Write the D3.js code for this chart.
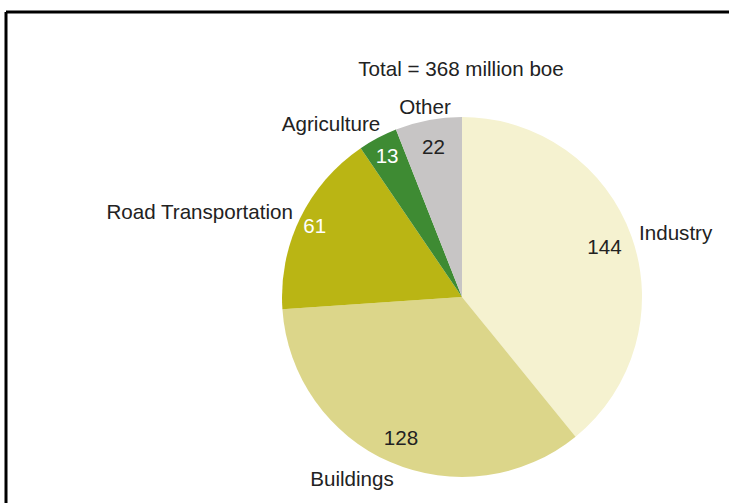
<!DOCTYPE html>
<html>
<head>
<meta charset="utf-8">
<script src="https://cdn.jsdelivr.net/npm/d3@7"></script>
<style>
  html, body { margin: 0; padding: 0; background: #fff; }
  svg { display: block; font-family: "Liberation Sans", Arial, sans-serif; }
</style>
</head>
<body>
<svg id="chart" width="729" height="503"></svg>
<script>
// Energy use by sector, million boe
const sectors = ["Industry", "Buildings", "Road Transportation", "Agriculture", "Other"];
const values = [144, 128, 61, 13, 22];
const colors = ["#f5f2d0", "#dcd68a", "#bab514", "#3e8b33", "#c7c5c5"];
const valueColors = ["#222", "#222", "#fff", "#fff", "#222"];
const title = "Total = 368 million boe";

const W = 729, H = 503;
const cx = 462, cy = 297, R = 180;
const FS = 20.6;

const svg = d3.select("#chart");

// frame lines along the top and left
svg.append("line").attr("x1", 6).attr("x2", W).attr("y1", 12).attr("y2", 12)
  .attr("stroke", "#000").attr("stroke-width", 3);
svg.append("line").attr("x1", 6).attr("x2", 6).attr("y1", 12).attr("y2", H)
  .attr("stroke", "#000").attr("stroke-width", 3);

const pie = d3.pie().sort(null).value(d => d.value);
const data = sectors.map((s, i) => ({ name: s, value: values[i], color: colors[i], vc: valueColors[i] }));
const arcs = pie(data);
const arc = d3.arc().innerRadius(0).outerRadius(R);

const g = svg.append("g").attr("transform", `translate(${cx},${cy})`);
g.selectAll("path").data(arcs).join("path")
  .attr("d", arc)
  .attr("fill", d => d.data.color);

// value labels inside slices (radial fraction per slice)
const valueRadius = [0.84, 0.85, 0.91, 0.89, 0.85];
g.selectAll("text.val").data(arcs).join("text")
  .attr("class", "val")
  .attr("transform", (d, i) => {
    const a = (d.startAngle + d.endAngle) / 2;
    const r = R * valueRadius[i];
    return `translate(${r * Math.sin(a)},${-r * Math.cos(a)})`;
  })
  .attr("text-anchor", "middle")
  .attr("dy", "0.35em")
  .attr("font-size", FS)
  .attr("fill", d => d.data.vc)
  .text(d => d.data.value);

// category labels outside
const labelPos = {
  "Industry": { x: 639, y: 240, anchor: "start" },
  "Buildings": { x: 352, y: 486, anchor: "middle" },
  "Road Transportation": { x: 293, y: 219, anchor: "end" },
  "Agriculture": { x: 331, y: 131, anchor: "middle" },
  "Other": { x: 425, y: 114, anchor: "middle" }
};
svg.selectAll("text.cat").data(sectors).join("text")
  .attr("class", "cat")
  .attr("x", d => labelPos[d].x)
  .attr("y", d => labelPos[d].y)
  .attr("text-anchor", d => labelPos[d].anchor)
  .attr("font-size", FS)
  .attr("fill", "#222")
  .text(d => d);

svg.append("text")
  .attr("x", 461).attr("y", 76)
  .attr("text-anchor", "middle")
  .attr("font-size", FS)
  .attr("fill", "#222")
  .text(title);
</script>
</body>
</html>
